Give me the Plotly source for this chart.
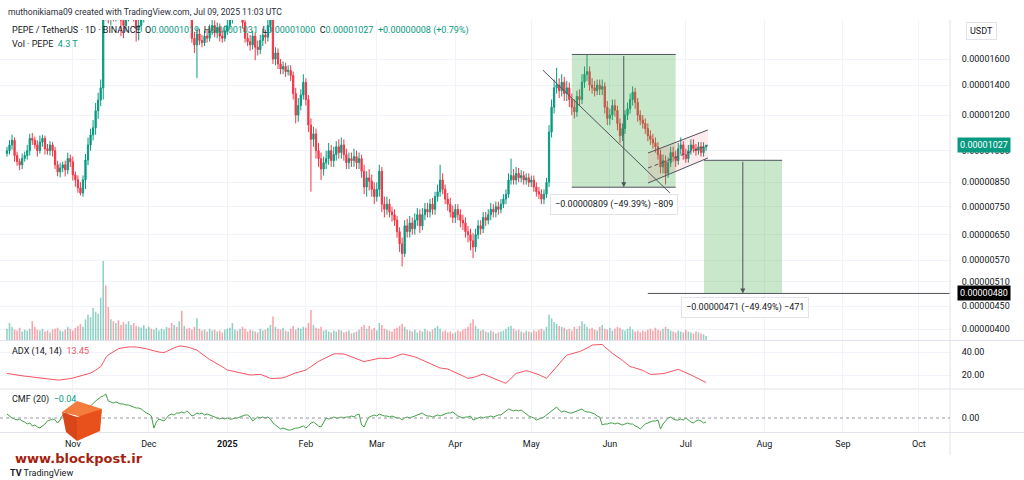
import math
import pandas as pd
import plotly.graph_objects as go

# ---------------- DATA (prices in units of 1e-8 USDT) ----------------
START = "2024-10-06"
first_open = 985
closes = [
    1000, 1030, 1055, 975, 945, 930, 960, 975, 1000, 1065,
    1055, 1030, 1000, 1045, 1065, 1010, 1000, 1030, 1000, 930,
    897, 915, 930, 906, 960, 945, 883, 861, 826, 805,
    861, 953, 1030, 1084, 1125, 1227, 1296, 1380, 2150, 2050,
    1980, 2100, 2000, 2050, 2000, 1950, 1900, 2000, 2050, 2100,
    2000, 1870, 1900, 1990, 2100, 2180, 2250, 2230, 2350, 2450,
    2550, 2650, 2700, 2780, 2450, 2300, 2500, 2450, 2550, 2400,
    2500, 2300, 2150, 1780, 1720, 1820, 1760, 1740, 1800, 1780,
    1850, 1900, 1830, 1880, 1800, 1780, 1850, 1900, 1960, 2050,
    2100, 2080, 2150, 1930, 1780, 1750, 1720, 1800, 1700, 1680,
    1760, 1810, 1790, 1900, 2000, 1600, 1650, 1560, 1520, 1540,
    1500, 1510, 1470, 1340, 1200, 1260, 1330, 1420, 1300, 1140,
    1060, 1090, 1000, 960, 910, 940, 960, 1000, 950, 980,
    1020, 990, 1030, 980, 940, 960, 950, 970, 940, 960,
    900, 830, 870, 855, 820, 790, 820, 900, 760, 740,
    760, 730, 720, 700, 660, 620, 590, 680, 660, 690,
    670, 700, 720, 680, 720, 740, 730, 760, 740, 790,
    810, 860, 820, 780, 760, 730, 710, 740, 720, 700,
    690, 660, 650, 630, 610, 650, 680, 670, 710, 700,
    720, 740, 730, 750, 740, 760, 780, 800, 860, 880,
    860, 890, 870, 880, 860, 870, 850, 860, 830, 810,
    800, 780, 800, 850, 1100, 1250, 1380, 1400, 1360, 1420,
    1340, 1380, 1300, 1250, 1220, 1320, 1300, 1420, 1480, 1500,
    1400, 1380, 1360, 1400, 1370, 1390, 1250, 1180, 1200, 1260,
    1230, 1150, 1080, 1120, 1200, 1240, 1300, 1350, 1280, 1200,
    1170, 1150, 1120, 1080, 1060, 1040, 1020, 980, 920, 950,
    890, 940, 990, 970, 950, 1010, 1030, 980, 960, 1000,
    1030, 1010, 1000, 1020, 990, 1019, 1027,
]
wick_up = [
    20, 25, 30, 15, 20, 15, 25, 20, 30, 25,
    30, 20, 25, 35, 20, 15, 25, 20, 15, 20,
    20, 25, 15, 20, 30, 20, 25, 15, 20, 25,
    20, 30, 40, 35, 45, 50, 50, 60, 250, 200,
    150, 120, 100, 100, 90, 100, 110, 100, 100, 120,
    100, 120, 100, 100, 100, 100, 120, 100, 120, 120,
    120, 150, 150, 200, 150, 120, 150, 120, 150, 150,
    120, 80, 80, 50, 60, 60, 50, 50, 50, 60,
    60, 60, 50, 50, 40, 50, 50, 60, 80, 100,
    100, 100, 100, 60, 40, 50, 60, 50, 40, 60,
    50, 60, 50, 80, 100, 50, 50, 40, 40, 40,
    30, 40, 40, 30, 40, 50, 40, 60, 30, 30,
    40, 40, 30, 40, 30, 30, 40, 40, 30, 40,
    30, 40, 40, 30, 30, 30, 30, 40, 30, 30,
    20, 30, 30, 40, 30, 30, 30, 30, 20, 30,
    30, 20, 20, 20, 15, 15, 20, 20, 25, 25,
    20, 25, 25, 20, 25, 25, 25, 20, 25, 20,
    30, 70, 30, 20, 25, 25, 25, 20, 20, 20,
    20, 20, 20, 20, 25, 20, 20, 20, 20, 20,
    20, 25, 20, 20, 20, 20, 20, 20, 30, 80,
    30, 30, 25, 25, 20, 20, 20, 20, 20, 20,
    20, 20, 20, 20, 40, 50, 60, 130, 50, 60,
    40, 50, 40, 40, 50, 40, 50, 60, 60, 138,
    40, 50, 50, 40, 40, 50, 30, 40, 40, 40,
    40, 30, 30, 30, 30, 40, 40, 40, 30, 30,
    30, 30, 30, 30, 30, 30, 30, 25, 25, 30,
    25, 25, 30, 30, 30, 30, 40, 20, 30, 30,
    30, 30, 25, 25, 25, 25, 4,
]
wick_dn = [
    15, 20, 25, 30, 20, 25, 20, 15, 20, 25,
    25, 20, 30, 15, 25, 30, 20, 25, 30, 20,
    20, 25, 20, 30, 20, 25, 25, 30, 20, 10,
    15, 40, 25, 30, 30, 40, 50, 40, 80, 100,
    60, 80, 60, 60, 40, 150, 120, 60, 60, 70,
    60, 120, 110, 60, 60, 50, 60, 60, 60, 60,
    60, 80, 100, 100, 250, 200, 80, 100, 100, 150,
    80, 100, 100, 40, 70, 270, 40, 40, 30, 40,
    30, 40, 40, 50, 50, 40, 30, 40, 40, 40,
    60, 60, 50, 60, 40, 40, 50, 40, 110, 50,
    40, 50, 60, 40, 60, 40, 50, 40, 40, 40,
    40, 30, 40, 40, 50, 40, 30, 30, 40, 40,
    250, 40, 40, 40, 50, 30, 30, 30, 30, 30,
    30, 30, 30, 30, 30, 30, 30, 30, 30, 30,
    30, 30, 40, 40, 30, 30, 20, 30, 30, 30,
    20, 20, 25, 20, 20, 25, 38, 10, 20, 20,
    20, 20, 20, 25, 15, 20, 20, 20, 20, 20,
    20, 20, 20, 20, 25, 20, 20, 20, 20, 25,
    25, 20, 25, 30, 34, 15, 15, 20, 15, 20,
    15, 20, 20, 20, 20, 15, 15, 20, 15, 20,
    20, 20, 20, 20, 20, 20, 20, 20, 20, 20,
    20, 20, 20, 15, 20, 30, 40, 40, 50, 40,
    50, 50, 50, 50, 40, 30, 40, 30, 40, 50,
    40, 40, 40, 30, 40, 40, 40, 40, 40, 30,
    40, 40, 40, 30, 30, 30, 30, 40, 40, 40,
    30, 30, 30, 30, 30, 30, 30, 25, 30, 30,
    50, 20, 20, 25, 30, 20, 30, 25, 20, 20,
    20, 20, 25, 20, 20, 20, 19,
]
volume_t = [
    12, 18, 14, 11, 10, 13, 9, 11, 10, 12,
    20, 14, 11, 10, 12, 9, 10, 8, 11, 12,
    13, 10, 9, 11, 14, 12, 10, 13, 15, 17,
    14, 22, 27, 24, 34, 30, 28, 45, 84, 58,
    35, 22, 20, 18, 21, 16, 19, 17, 20, 16,
    18, 15, 14, 13, 16, 12, 14, 12, 11, 13,
    10, 12, 11, 14, 13, 18, 16, 14, 20, 31,
    15, 12, 13, 11, 14, 23, 12, 10, 11, 9,
    12, 10, 11, 9, 10, 8, 11, 12, 13, 18,
    11, 10, 12, 14, 12, 9, 11, 10, 9, 8,
    12, 10, 11, 13, 16, 25, 14, 12, 11, 13,
    10, 9, 12, 15, 11, 13, 12, 14, 13, 18,
    32, 16, 13, 12, 14, 10, 11, 9, 8, 10,
    9, 11, 10, 8, 9, 10, 7, 8, 9, 11,
    14, 16, 12, 15, 11, 13, 10, 18, 16, 12,
    11, 10, 9, 12, 13, 15, 17, 14, 11, 10,
    9, 11, 8, 10, 9, 12, 10, 9, 11, 13,
    15, 12, 9, 10, 8, 9, 7, 8, 10, 9,
    11, 12, 14, 18, 22, 15, 12, 10, 11, 9,
    8, 10, 9, 7, 8, 9, 10, 12, 14, 15,
    12, 10, 11, 9, 8, 10, 9, 8, 10, 9,
    11, 12, 10, 14, 27, 23, 19, 17, 15, 14,
    13, 11, 12, 10, 14, 12, 15, 20, 17, 14,
    12, 13, 11, 10, 14, 16, 12, 11, 13, 10,
    12, 14, 13, 11, 10, 12, 14, 11, 9, 10,
    8, 10, 9, 11, 12, 10, 13, 11, 10, 12,
    14, 12, 10, 9, 8, 10, 9, 8, 11, 9,
    8, 7, 9, 8, 7, 6, 4.3,
]
adx = [
    21.4, 21.0, 20.5, 20.0, 19.8, 19.5, 19.2, 19.0, 18.8, 18.5,
    18.2, 17.9, 17.6, 17.3, 17.0, 16.7, 16.4, 16.1, 15.7, 15.6,
    15.6, 15.7, 15.9, 16.2, 16.5, 16.9, 17.4, 17.9, 18.5, 19.2,
    19.8, 20.4, 21.0, 21.7, 22.8, 24.2, 25.8, 27.2, 31.0, 35.0,
    37.5, 39.0, 40.5, 41.8, 42.8, 43.4, 43.9, 44.2, 44.4, 44.5,
    44.6, 44.4, 44.1, 43.8, 43.4, 42.8, 42.2, 41.5, 40.9, 40.3,
    40.0, 39.7, 39.6, 40.5, 41.7, 42.7, 43.6, 44.4, 45.2, 45.2,
    45.0, 44.6, 44.0, 43.2, 42.5, 41.7, 40.0, 38.2, 36.3, 34.5,
    33.4, 32.3, 31.2, 30.1, 28.7, 27.2, 25.8, 24.3, 23.9, 23.4,
    23.0, 22.6, 22.3, 21.7, 21.1, 20.5, 20.0, 20.1, 20.3, 20.5,
    20.6, 19.8, 19.0, 18.0, 17.1, 17.0, 17.0, 17.2, 17.3, 17.5,
    18.3, 19.2, 20.3, 21.4, 21.9, 22.4, 22.9, 23.6, 24.3, 25.8,
    27.5, 29.0, 30.5, 31.8, 33.0, 34.2, 35.4, 36.5, 37.4, 38.3,
    38.5, 38.6, 38.5, 38.3, 37.6, 36.8, 35.9, 35.0, 34.2, 33.3,
    32.4, 31.6, 32.2, 32.8, 33.4, 34.0, 34.5, 34.6, 34.6, 34.5,
    34.5, 34.5, 35.0, 35.8, 36.7, 37.5, 38.3, 38.0, 37.6, 37.2,
    36.8, 35.8, 34.9, 33.9, 33.0, 31.9, 30.8, 29.6, 28.5, 27.4,
    26.4, 26.1, 25.8, 25.5, 25.2, 24.2, 23.3, 22.3, 21.4, 20.3,
    19.2, 18.1, 17.1, 17.4, 17.7, 18.5, 19.3, 20.1, 20.9, 19.9,
    18.9, 18.0, 17.1, 16.2, 15.3, 14.5, 13.6, 12.8, 14.8, 16.9,
    19.1, 21.4, 22.0, 22.6, 23.2, 23.8, 23.2, 22.6, 22.0, 21.4,
    20.3, 19.2, 18.1, 17.1, 19.6, 22.2, 24.7, 27.3, 29.8, 32.3,
    34.9, 37.4, 37.9, 38.4, 38.9, 39.4, 40.4, 41.3, 42.3, 43.2,
    44.6, 46.1, 46.3, 46.4, 46.5, 46.6, 44.5, 42.4, 40.3, 38.9,
    37.4, 36.0, 34.5, 32.7, 30.9, 29.1, 27.3, 26.8, 26.2, 25.7,
    25.2, 24.1, 22.9, 21.8, 20.6, 20.6, 20.6, 20.6, 20.6, 21.2,
    21.7, 22.3, 22.9, 23.6, 24.2, 24.9, 24.0, 23.2, 22.3, 21.2,
    20.1, 19.0, 18.0, 16.9, 15.8, 14.7, 13.45,
]
cmf = [
    0.04, 0.02, 0.00, -0.01, -0.02, -0.01, -0.03, -0.04, -0.06, -0.05,
    -0.08, -0.07, -0.09, -0.10, -0.08, -0.06, -0.03, -0.02, -0.01, -0.02,
    -0.05, -0.02, 0.03, 0.04, 0.05, 0.06, 0.07, 0.06, 0.08, 0.09,
    0.08, 0.09, 0.10, 0.12, 0.15, 0.17, 0.19, 0.21, 0.22, 0.24,
    0.17, 0.16, 0.15, 0.16, 0.15, 0.14, 0.14, 0.13, 0.13, 0.12,
    0.11, 0.10, 0.10, 0.09, 0.07, 0.05, 0.04, 0.02, -0.10, -0.04,
    -0.01, -0.02, -0.03, 0.00, 0.03, 0.04, 0.03, 0.05, 0.05, 0.06,
    0.05, 0.07, 0.05, 0.02, 0.03, 0.05, 0.04, 0.05, 0.03, 0.04,
    0.03, 0.02, 0.01, 0.00, -0.01, 0.00, -0.01, 0.00, -0.01, -0.01,
    0.00, 0.00, 0.01, 0.02, 0.03, 0.03, 0.01, -0.03, -0.01, 0.01,
    0.00, 0.01, 0.00, 0.01, -0.01, -0.05, -0.07, -0.09, -0.11, -0.10,
    -0.11, -0.12, -0.12, -0.11, -0.10, -0.10, -0.09, -0.08, -0.10, -0.08,
    -0.05, -0.04, -0.06, -0.08, -0.09, -0.05, 0.00, -0.01, 0.00, 0.01,
    0.00, 0.00, 0.01, 0.00, 0.01, 0.01, 0.02, 0.01, 0.03, 0.04,
    -0.07, -0.09, -0.03, 0.01, 0.02, 0.03, 0.02, 0.04, 0.03, 0.02,
    0.02, 0.01, 0.02, 0.01, 0.00, 0.00, -0.02, 0.00, 0.01, 0.00,
    0.01, 0.02, 0.03, 0.04, 0.05, 0.03, 0.02, 0.02, 0.01, 0.02,
    0.03, 0.02, 0.03, 0.04, 0.05, 0.05, 0.06, 0.04, 0.02, 0.01,
    0.00, 0.01, 0.01, 0.02, -0.02, -0.01, 0.00, 0.01, 0.00, 0.01,
    0.01, 0.02, 0.01, 0.02, 0.03, 0.03, 0.05, 0.07, 0.09, 0.08,
    0.07, 0.08, 0.07, 0.08, 0.06, 0.04, 0.02, 0.01, 0.00, -0.02,
    -0.01, 0.00, 0.01, 0.03, 0.05, 0.07, 0.09, 0.11, 0.08, 0.06,
    0.07, 0.06, 0.05, 0.05, 0.06, 0.07, 0.08, 0.09, 0.07, 0.06,
    0.06, 0.05, 0.04, 0.02, 0.01, -0.07, -0.06, -0.06, -0.05, -0.05,
    -0.06, -0.05, -0.06, -0.07, -0.06, -0.05, -0.06, -0.06, -0.08, -0.09,
    -0.11, -0.08, -0.06, -0.05, -0.04, -0.03, -0.03, -0.02, -0.11, -0.06,
    -0.03, 0.00, 0.01, -0.01, -0.02, -0.02, -0.01, -0.02, 0.00, -0.02,
    -0.04, -0.05, -0.03, -0.02, -0.03, -0.05, -0.04,
]
price_ticks = [400, 450, 510, 570, 650, 750, 850, 1000, 1200, 1400, 1600]
month_ticks = ["2024-11-01", "2024-12-01", "2025-01-01", "2025-02-01", "2025-03-01", "2025-04-01",
               "2025-05-01", "2025-06-01", "2025-07-01", "2025-08-01", "2025-09-01", "2025-10-01"]
month_labels = ["Nov", "Dec", "<b>2025</b>", "Feb", "Mar", "Apr", "May", "Jun", "Jul", "Aug", "Sep", "Oct"]

# drawings (date, price)
measure1_dates = ["2025-05-17", "2025-06-27"]
measure1_prices = [1638, 829]
measure1_arrow_date = "2025-06-06 12:00"
measure2_dates = ["2025-07-08 04:00", "2025-08-08"]
measure2_prices = [951.7, 480.7]
measure2_arrow_date = "2025-07-23 12:00"
target_line_dates = ["2025-06-16", "2025-10-20"]
target_label = "0.00000480"
trend_dates = ["2025-05-05 14:00", "2025-06-24 17:00"]
trend_prices = [1511, 805]
chan_dates = ["2025-06-16 02:00", "2025-07-09 17:00"]
chan_upper = [988, 1112]
chan_mid = [915, 1029]
chan_lower = [847, 963]

# ---------------- DERIVED ----------------
dates = pd.date_range(START, periods=len(closes), freq="D")
opens = [first_open] + closes[:-1]
highs = [max(o, c) + u for o, c, u in zip(opens, closes, wick_up)]
lows = [min(o, c) - d for o, c, d in zip(opens, closes, wick_dn)]

W, H = 1024, 480
GREEN = "#089981"
RED = "#F23645"
TXT = "#131722"
GRID = "#f0f3fa"
DRAW = "#50535e"


def px(x):
    return x / W


def py(y):
    return 1 - y / H


XR = px(950)
x_range = ["2024-10-03 06:00", "2025-10-13 07:00"]
p_top, p_bot = 1954.6, 378.6

fig = go.Figure()

# volume
vcol = ["rgba(8,153,129,0.45)" if c >= o else "rgba(242,54,69,0.45)" for o, c in zip(opens, closes)]
fig.add_trace(go.Bar(x=dates, y=volume_t, marker=dict(color=vcol, line=dict(width=0)),
                     width=0.62 * 86400000, xaxis="x", yaxis="y2", hoverinfo="skip"))

# candles
fig.add_trace(go.Candlestick(
    x=dates, open=opens, high=highs, low=lows, close=closes, xaxis="x", yaxis="y",
    increasing=dict(line=dict(color=GREEN, width=1), fillcolor=GREEN),
    decreasing=dict(line=dict(color=RED, width=1), fillcolor=RED),
    whiskerwidth=0, hoverinfo="skip"))


def box(d, p):
    return dict(x=[d[0], d[1], d[1], d[0], d[0]], y=[p[0], p[0], p[1], p[1], p[0]])


for d, p in [(measure1_dates, measure1_prices), (measure2_dates, measure2_prices)]:
    b = box(d, p)
    fig.add_trace(go.Scatter(**b, mode="lines", fill="toself", fillcolor="rgba(76,175,80,0.30)",
                             line=dict(width=0), xaxis="x", yaxis="y", hoverinfo="skip"))
fig.add_trace(go.Scatter(x=measure1_dates, y=[measure1_prices[0]] * 2, mode="lines",
                         line=dict(color=DRAW, width=1), xaxis="x", yaxis="y"))
fig.add_trace(go.Scatter(x=measure1_dates, y=[measure1_prices[1]] * 2, mode="lines",
                         line=dict(color=DRAW, width=1), xaxis="x", yaxis="y"))
fig.add_trace(go.Scatter(x=measure2_dates, y=[measure2_prices[0]] * 2, mode="lines",
                         line=dict(color=DRAW, width=1), xaxis="x", yaxis="y"))
fig.add_trace(go.Scatter(x=target_line_dates, y=[measure2_prices[1]] * 2, mode="lines",
                         line=dict(color=DRAW, width=1), xaxis="x", yaxis="y"))

# channel
fig.add_trace(go.Scatter(x=chan_dates + chan_dates[::-1] + chan_dates[:1],
                         y=chan_upper + chan_lower[::-1] + chan_upper[:1],
                         mode="lines", fill="toself", fillcolor="rgba(242,54,69,0.10)",
                         line=dict(width=0), xaxis="x", yaxis="y"))
fig.add_trace(go.Scatter(x=chan_dates, y=chan_upper, mode="lines", line=dict(color=DRAW, width=1),
                         xaxis="x", yaxis="y"))
fig.add_trace(go.Scatter(x=chan_dates, y=chan_lower, mode="lines", line=dict(color=DRAW, width=1),
                         xaxis="x", yaxis="y"))
fig.add_trace(go.Scatter(x=chan_dates, y=chan_mid, mode="lines",
                         line=dict(color=DRAW, width=1, dash="4px,3px"), xaxis="x", yaxis="y"))
fig.add_trace(go.Scatter(x=trend_dates, y=trend_prices, mode="lines", line=dict(color=DRAW, width=1),
                         xaxis="x", yaxis="y"))

# ADX / CMF
fig.add_trace(go.Scatter(x=dates, y=adx, mode="lines", line=dict(color="#F7525F", width=1),
                         xaxis="x2", yaxis="y3", hoverinfo="skip"))
fig.add_trace(go.Scatter(x=dates, y=cmf, mode="lines", line=dict(color="#43A047", width=1),
                         xaxis="x3", yaxis="y4", hoverinfo="skip"))

fnt = "Roboto, Arial, sans-serif"
common_x = dict(range=x_range, type="date", tickvals=month_ticks, ticktext=month_labels,
                showgrid=True, gridcolor=GRID, gridwidth=1, zeroline=False, showline=False,
                rangeslider=dict(visible=False), fixedrange=True)

fig.update_layout(
    width=W, height=H, margin=dict(l=0, r=0, t=0, b=0),
    paper_bgcolor="white", plot_bgcolor="white", showlegend=False,
    font=dict(family=fnt, size=9, color=TXT),
    xaxis=dict(domain=[0, XR], anchor="y", showticklabels=False, **common_x),
    xaxis2=dict(domain=[0, XR], anchor="y3", showticklabels=False, matches="x", **common_x),
    xaxis3=dict(domain=[0, XR], anchor="y4", showticklabels=True, matches="x", ticks="outside",
                ticklen=3, tickcolor="rgba(0,0,0,0)", tickfont=dict(size=9, color=TXT), **common_x),
    yaxis=dict(domain=[py(340), py(20)], type="log", side="right",
               range=[math.log10(p_bot), math.log10(p_top)],
               tickvals=price_ticks, ticktext=[f"{v * 1e-8:.8f}" for v in price_ticks],
               ticks="outside", ticklen=9, tickcolor="rgba(0,0,0,0)",
               showgrid=True, gridcolor=GRID, zeroline=False, showline=False, fixedrange=True),
    yaxis2=dict(overlaying="y", range=[0, 340], visible=False, fixedrange=True),
    yaxis3=dict(domain=[py(388), py(341)], range=[8.7, 49.6], side="right",
                tickvals=[20, 40], ticktext=["20.00", "40.00"], ticks="outside", ticklen=9,
                tickcolor="rgba(0,0,0,0)", showgrid=True, gridcolor=GRID, zeroline=False, fixedrange=True),
    yaxis4=dict(domain=[py(432), py(390)], range=[-0.14, 0.28], side="right",
                tickvals=[0], ticktext=["0.00"], ticks="outside", ticklen=9,
                tickcolor="rgba(0,0,0,0)", showgrid=False, zeroline=False, fixedrange=True),
)

shapes = []
for yy in [340.5, 389, 432.5]:
    shapes.append(dict(type="line", xref="paper", yref="paper", x0=0, x1=1, y0=py(yy), y1=py(yy),
                       line=dict(color="#e0e3eb", width=1)))
shapes.append(dict(type="line", xref="paper", yref="paper", x0=XR, x1=XR, y0=py(20), y1=py(455),
                   line=dict(color="#e0e3eb", width=1)))
shapes.append(dict(type="line", xref="x3 domain", yref="y4", x0=0, x1=1, y0=0, y1=0,
                   line=dict(color="#9598a1", width=1, dash="3px,3px")))


def poly(points):
    return "M " + " L ".join(f"{px(a):.5f},{py(b):.5f}" for a, b in points) + " Z"


shapes.append(dict(type="path", xref="paper", yref="paper", path=poly([(62, 412), (77, 401), (102, 409), (86, 418)]),
                   fillcolor="#F47C3C", line=dict(width=0)))
shapes.append(dict(type="path", xref="paper", yref="paper", path=poly([(77, 417), (102, 409), (100, 431), (77, 441)]),
                   fillcolor="#E8501C", line=dict(width=0)))
shapes.append(dict(type="path", xref="paper", yref="paper", path=poly([(62, 412), (77, 417), (77, 441), (66, 432)]),
                   fillcolor="#D9461A", line=dict(width=0)))
fig.update_layout(shapes=shapes)

ann = []
L = math.log10


def note(text, x, y, size=9, color=TXT, family=fnt, **kw):
    ann.append(dict(text=text, x=px(x), y=py(y), xref="paper", yref="paper", showarrow=False,
                    xanchor="left", yanchor="middle", font=dict(size=size, color=color, family=family), **kw))


def g(t):
    return f"<span style='color:{GREEN}'>{t}</span>"


note("muthonikiama09 created with TradingView.com, Jul 09, 2025 11:03 UTC", 6, 12, size=8.6, color="#2a2e39")
note("PEPE / TetherUS · 1D · BINANCE  O" + g("0.00001019") + "  H" + g("0.00001031") + "  L" + g("0.00001000")
     + "  C" + g("0.00001027") + "  " + g("+0.00000008 (+0.79%)"), 10, 31, size=9)
note("Vol · PEPE  " + g("4.3 T"), 10, 44, size=9)
note("ADX (14, 14)  <span style='color:#F7525F'>13.45</span>", 10, 351, size=9)
note("CMF (20)  " + g("−0.04"), 10, 399, size=9)
note("USDT", 966, 31, size=9, bgcolor="white", bordercolor="#e0e3eb", borderwidth=1, borderpad=3)
note("<b>www.blockpost.ir</b>", 13, 458, size=13, color="#A51F10", family="DejaVu Sans, sans-serif")
note("<b>TV</b> TradingView", 8, 473, size=9, color="#131722")

# right axis labels
ann.append(dict(text=f"{closes[-1] * 1e-8:.8f}", x=px(957), y=L(closes[-1]), xref="paper", yref="y",
                showarrow=False, xanchor="left", yanchor="middle", bgcolor=GREEN, borderpad=2,
                font=dict(size=9, color="white", family=fnt)))
ann.append(dict(text=target_label, x=px(957), y=L(measure2_prices[1]), xref="paper", yref="y", showarrow=False,
                xanchor="left", yanchor="middle", bgcolor="#000000", borderpad=2,
                font=dict(size=9, color="white", family=fnt)))

# measure arrows
for xd, p in [(measure1_arrow_date, measure1_prices), (measure2_arrow_date, measure2_prices)]:
    ann.append(dict(x=xd, y=L(p[1]), ax=xd, ay=L(p[0]), xref="x", yref="y", axref="x", ayref="y",
                    showarrow=True, arrowhead=2, arrowsize=1, arrowwidth=1, arrowcolor=DRAW, text=""))

# measure labels
d1 = round(measure1_prices[0] - measure1_prices[1])
d2 = round(measure2_prices[0] - measure2_prices[1])
lab1 = f"−{d1 * 1e-8:.8f} (−{d1 / measure1_prices[0] * 100:.2f}%) −{d1}"
lab2 = f"−{d2 * 1e-8:.8f} (−{d2 / measure2_prices[0] * 100:.2f}%) −{d2}"
ann.append(dict(text=lab1, x="2025-06-02 12:00", y=L(760), xref="x", yref="y", showarrow=False,
                bgcolor="white", bordercolor="#e0e3eb", borderwidth=1, borderpad=4,
                font=dict(size=9, color=TXT, family=fnt)))
ann.append(dict(text=lab2, x="2025-07-24 10:00", y=L(448), xref="x", yref="y", showarrow=False,
                bgcolor="white", bordercolor="#e0e3eb", borderwidth=1, borderpad=4,
                font=dict(size=9, color=TXT, family=fnt)))
fig.update_layout(annotations=ann)

fig.write_html("out.html")
